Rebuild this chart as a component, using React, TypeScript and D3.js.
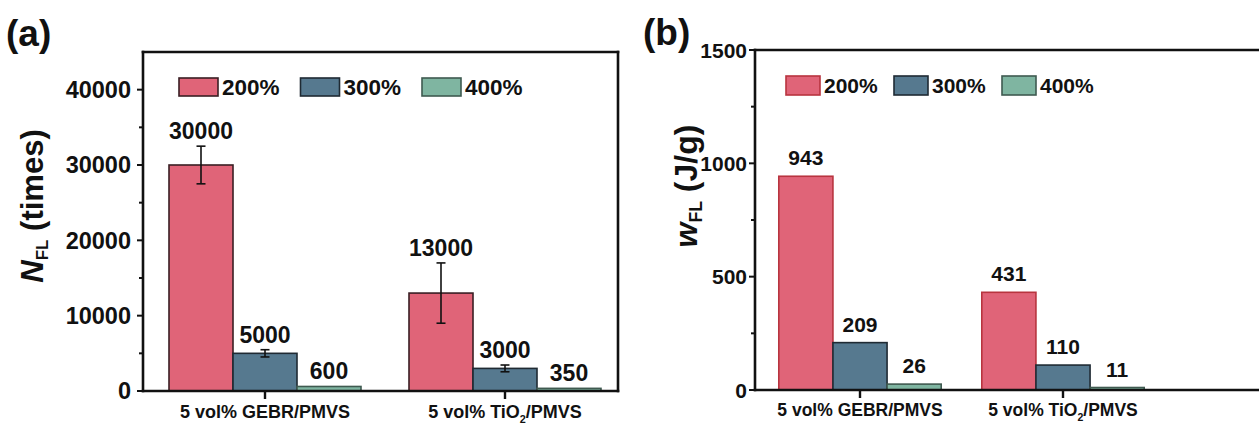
import React, { useEffect, useRef } from 'react';
import * as d3 from 'd3';

const categories = ['5 vol% GEBR/PMVS', '5 vol% TiO_2/PMVS'];
const seriesNames = ['200%', '300%', '400%'];
const seriesColors = ['#E06478', '#56798F', '#7FB5A1'];

// (a) fatigue life, cycles
const nfl200 = [30000, 13000];
const nfl300 = [5000, 3000];
const nfl400 = [600, 350];
const nflErr200 = [2500, 4000];
const nflErr300 = [480, 450];
const nflErr400 = [0, 0];
const nflTicks = [0, 10000, 20000, 30000, 40000];

// (b) work to fatigue failure, J/g
const wfl200 = [943, 431];
const wfl300 = [209, 110];
const wfl400 = [26, 11];
const wflTicks = [0, 500, 1000, 1500];

const FONT = '"Liberation Sans", Arial, sans-serif';

type Sel = d3.Selection<SVGGElement, unknown, null, undefined>;

type PanelOpts = {
    tag: string; tagX: number; tagY: number;
    left: number; right: number; top: number; bottom: number;
    yMax: number; ticks: number[]; minorStep: number;
    groupRange: [number, number];
    values: number[][]; errors: number[][] | null;
    strokes: string[];
    tickFont: number; tickGap: number; valueFont: number; labelFont: number; labelY: number;
    legendFont: number; legendX: number; legendY: number; legendStep: number;
    legendBoxW: number; legendBoxH: number;
    titleX: number; titleY: number; titleMain: string; titleUnit: string; titleFont: number;
    closeRight: boolean; valueGap: number;
};

const drawPanel = (g: Sel, o: PanelOpts) => {
    const y = d3.scaleLinear().domain([0, o.yMax]).range([o.bottom, o.top]);
    const x0 = d3.scaleBand<string>().domain(categories).range(o.groupRange)
        .paddingInner(0.2).paddingOuter(0.1);
    const x1 = d3.scaleBand<string>().domain(seriesNames).range([0, x0.bandwidth()]);

    // bars
    categories.forEach((cat, i) => {
        seriesNames.forEach((s, j) => {
            const v = o.values[j][i];
            const bx = (x0(cat) as number) + (x1(s) as number);
            g.append('rect')
                .attr('x', bx)
                .attr('y', y(v))
                .attr('width', x1.bandwidth())
                .attr('height', o.bottom - y(v))
                .attr('fill', seriesColors[j])
                .attr('stroke', o.strokes[j])
                .attr('stroke-width', 1.6);

            const e = o.errors ? o.errors[j][i] : 0;
            const cx = bx + x1.bandwidth() / 2;
            if (e > 0) {
                g.append('line').attr('x1', cx).attr('x2', cx)
                    .attr('y1', y(v + e)).attr('y2', y(v - e))
                    .attr('stroke', '#111').attr('stroke-width', 1.6);
                [v + e, v - e].forEach(ev => {
                    g.append('line').attr('x1', cx - 4.5).attr('x2', cx + 4.5)
                        .attr('y1', y(ev)).attr('y2', y(ev))
                        .attr('stroke', '#111').attr('stroke-width', 1.6);
                });
            }
            g.append('text')
                .attr('x', cx)
                .attr('y', y(v + e) - o.valueGap)
                .attr('text-anchor', 'middle')
                .attr('font-size', o.valueFont)
                .attr('font-weight', 'bold')
                .attr('fill', '#111')
                .text(v);
        });
    });

    // frame
    const axis = (ax1: number, ay1: number, ax2: number, ay2: number) =>
        g.append('line').attr('x1', ax1).attr('y1', ay1).attr('x2', ax2).attr('y2', ay2)
            .attr('stroke', '#111').attr('stroke-width', 2.6).attr('stroke-linecap', 'square');
    axis(o.left, o.top, o.left, o.bottom);
    axis(o.left, o.bottom, o.right, o.bottom);
    axis(o.left, o.top, o.right, o.top);
    if (o.closeRight) axis(o.right, o.top, o.right, o.bottom);

    // y ticks
    d3.range(0, o.yMax + 1, o.minorStep).forEach(t => {
        const major = o.ticks.includes(t);
        if (t === o.yMax && !major) return;
        g.append('line')
            .attr('x1', o.left - (major ? 6 : 4)).attr('x2', o.left)
            .attr('y1', y(t)).attr('y2', y(t))
            .attr('stroke', '#111').attr('stroke-width', 2);
    });
    o.ticks.forEach(t => {
        g.append('text')
            .attr('x', o.left - o.tickGap)
            .attr('y', y(t))
            .attr('dy', '0.36em')
            .attr('text-anchor', 'end')
            .attr('font-size', o.tickFont)
            .attr('font-weight', 'bold')
            .attr('fill', '#111')
            .text(t);
    });

    // x ticks + labels
    categories.forEach(cat => {
        const cx = (x0(cat) as number) + x0.bandwidth() / 2;
        g.append('line').attr('x1', cx).attr('x2', cx)
            .attr('y1', o.bottom).attr('y2', o.bottom + 8)
            .attr('stroke', '#111').attr('stroke-width', 2.4);
        const txt = g.append('text')
            .attr('x', cx).attr('y', o.labelY)
            .attr('text-anchor', 'middle')
            .attr('font-size', o.labelFont)
            .attr('font-weight', 'bold')
            .attr('fill', '#111');
        const parts = cat.split('_');
        txt.append('tspan').text(parts[0]);
        if (parts.length > 1) {
            txt.append('tspan').attr('font-size', o.labelFont * 0.6).attr('dy', 5).text(parts[1][0]);
            txt.append('tspan').attr('dy', -5).text(parts[1].slice(1));
        }
    });

    // legend
    seriesNames.forEach((s, j) => {
        const lx = o.legendX + j * o.legendStep;
        g.append('rect')
            .attr('x', lx).attr('y', o.legendY)
            .attr('width', o.legendBoxW).attr('height', o.legendBoxH)
            .attr('fill', seriesColors[j])
            .attr('stroke', o.strokes[j]).attr('stroke-width', 1.6);
        g.append('text')
            .attr('x', lx + o.legendBoxW + 4)
            .attr('y', o.legendY + o.legendBoxH / 2)
            .attr('dy', '0.36em')
            .attr('font-size', o.legendFont)
            .attr('font-weight', 'bold')
            .attr('fill', '#111')
            .text(s);
    });

    // y title
    const title = g.append('text')
        .attr('transform', `translate(${o.titleX},${o.titleY}) rotate(-90)`)
        .attr('text-anchor', 'middle')
        .attr('font-size', o.titleFont)
        .attr('font-weight', 'bold')
        .attr('fill', '#111');
    title.append('tspan').attr('font-style', 'italic').text(o.titleMain);
    title.append('tspan').attr('font-size', o.titleFont * 0.55).attr('dy', 5).text('FL');
    title.append('tspan').attr('dy', -5).text('\u00a0' + o.titleUnit);

    // panel tag
    g.append('text')
        .attr('x', o.tagX).attr('y', o.tagY)
        .attr('font-size', 37)
        .attr('font-weight', 'bold')
        .attr('fill', '#111')
        .text(o.tag);
};

const App: React.FC = () => {
    const svgRef = useRef<SVGSVGElement | null>(null);

    useEffect(() => {
        document.body.style.margin = '0';
        const svg = d3.select(svgRef.current);
        svg.selectAll('*').remove();
        const root = svg.append('g').attr('font-family', FONT);

        drawPanel(root.append('g') as Sel, {
            tag: '(a)', tagX: 6, tagY: 46,
            left: 143, right: 618, top: 52, bottom: 391,
            yMax: 45000, ticks: nflTicks, minorStep: 5000,
            groupRange: [145, 625],
            values: [nfl200, nfl300, nfl400],
            errors: [nflErr200, nflErr300, nflErr400],
            strokes: ['#3a1f24', '#1f2a33', '#3f5a50'],
            tickFont: 23.5, tickGap: 12, valueFont: 23, labelFont: 18, labelY: 418,
            legendFont: 22.5, legendX: 179, legendY: 78, legendStep: 121.5,
            legendBoxW: 39, legendBoxH: 18,
            titleX: 43, titleY: 206, titleMain: 'N', titleUnit: '(times)', titleFont: 31,
            closeRight: true, valueGap: 7,
        });

        drawPanel(root.append('g') as Sel, {
            tag: '(b)', tagX: 643, tagY: 45,
            left: 755, right: 1262, top: 50, bottom: 390,
            yMax: 1500, ticks: wflTicks, minorStep: 250,
            groupRange: [758.5, 1164.5],
            values: [wfl200, wfl300, wfl400],
            errors: null,
            strokes: ['#B8343F', '#1f2a33', '#3f5a50'],
            tickFont: 21, tickGap: 8, valueFont: 21, labelFont: 17.5, labelY: 416,
            legendFont: 21, legendX: 786, legendY: 76, legendStep: 108,
            legendBoxW: 34, legendBoxH: 19,
            titleX: 697, titleY: 186, titleMain: 'w', titleUnit: '(J/g)', titleFont: 32,
            closeRight: false, valueGap: 11,
        });
    }, []);

    return (
        <svg ref={svgRef} width={1259} height={425}
            style={{ display: 'block', background: '#fff' }} />
    );
};

export default App;
